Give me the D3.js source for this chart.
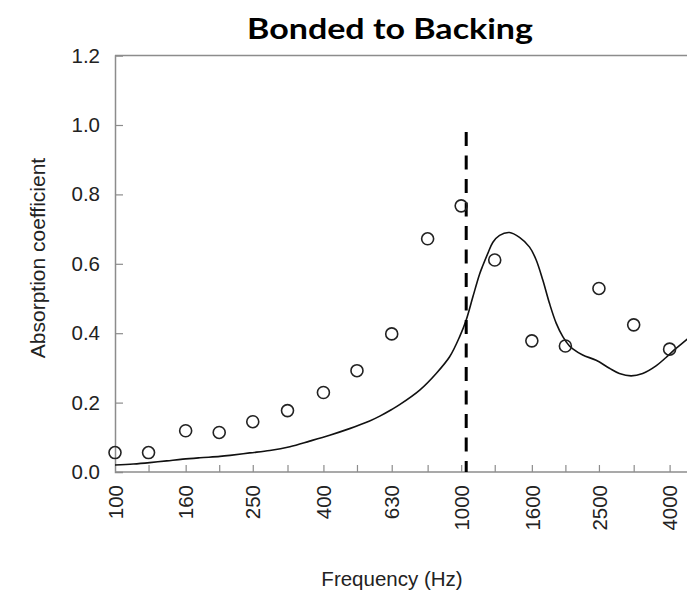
<!DOCTYPE html>
<html><head><meta charset="utf-8">
<script src="https://cdn.jsdelivr.net/npm/d3@7"></script>
<style>body{margin:0;background:#fff}svg{display:block}</style>
</head><body>
<script>
// Data
const bandFreqs = [100,125,160,200,250,315,400,500,630,800,1000,1250,1600,2000,2500,3150,4000,5000];
const tickLabels = ["100","160","250","400","630","1000","1600","2500","4000"];
const yTicks = [0,0.2,0.4,0.6,0.8,1.0,1.2];
const measuredFreqs = [100,125,160,200,250,315,400,500,630,800,1000,1250,1600,2000,2500,3150,4000];
const measuredAbs = [0.056,0.056,0.119,0.114,0.145,0.177,0.229,0.292,0.398,0.672,0.767,0.611,0.378,0.363,0.529,0.424,0.354];
const modelFreqs = [100,113,126,141,157,176,201,215,245,280,320,365,417,476,544,582,630,664,759,847,926,990,1034,1081,1130,1155,1194,1235,1291,1379,1474,1576,1647,1721,1799,1881,1966,2055,2101,2244,2454,2681,2864,3096,3344,3655,3907,4175,4462,4875];
const modelAbs = [0.020,0.023,0.027,0.032,0.037,0.041,0.045,0.048,0.055,0.062,0.073,0.089,0.106,0.125,0.147,0.161,0.180,0.194,0.236,0.284,0.332,0.390,0.438,0.505,0.570,0.595,0.630,0.662,0.682,0.690,0.676,0.648,0.611,0.553,0.486,0.429,0.390,0.363,0.355,0.337,0.322,0.299,0.284,0.277,0.284,0.306,0.330,0.356,0.380,0.412];
const markerFreq = 1034;
const markerTop = 0.98;

const W = 687, H = 593;
const svg = d3.select("body").append("svg").attr("width", W).attr("height", H);

const x = d3.scaleLog().domain([100, 4000]).range([115, 669.6]);
const y = d3.scaleLinear().domain([0, 1.2]).range([472, 55.6]);

const axisColor = "#8c8c8c";
const font = "Liberation Sans, Arial, sans-serif";

// top border
svg.append("line").attr("x1", x(100)).attr("x2", W).attr("y1", y(1.2)).attr("y2", y(1.2))
  .attr("stroke", axisColor).attr("stroke-width", 1.5);

// y axis
const yAxis = svg.append("g").attr("transform", `translate(${x(100)},0)`)
  .call(d3.axisLeft(y).tickValues(yTicks).tickFormat(d3.format(".1f")).tickSize(-8).tickPadding(15));
yAxis.select(".domain").attr("stroke", axisColor).attr("stroke-width", 1.5);
yAxis.selectAll(".tick line").attr("stroke", axisColor).attr("stroke-width", 1.2);
yAxis.selectAll(".tick text").attr("font-family", font).attr("font-size", 20.5).attr("fill", "#222");
yAxis.selectAll(".tick").filter(d => d === 0 || d === 1.2).select("line").remove();

// x axis
const xAxis = svg.append("g").attr("transform", `translate(0,${y(0)})`)
  .call(d3.axisBottom(x).tickValues(bandFreqs).tickFormat(d => tickLabels.includes(String(d)) ? String(d) : "").tickSize(-7).tickSizeOuter(0));
xAxis.select(".domain").attr("stroke", axisColor).attr("stroke-width", 1.5).attr("d", `M${x(100)},0H${W}`);
xAxis.selectAll(".tick line").attr("stroke", axisColor).attr("stroke-width", 1.2);
xAxis.selectAll(".tick").filter(d => d === 100).select("line").remove();
xAxis.selectAll(".tick text")
  .attr("font-family", font).attr("font-size", 20.5).attr("fill", "#222")
  .attr("transform", "rotate(-90)").attr("text-anchor", "end")
  .attr("x", -13).attr("y", 0).attr("dy", "0.35em");

// model curve
const line = d3.line().x((d, i) => x(modelFreqs[i])).y(d => y(d)).curve(d3.curveCatmullRom);
svg.append("path").datum(modelAbs).attr("d", line).attr("fill", "none")
  .attr("stroke", "#111").attr("stroke-width", 1.6);

// dashed marker line
svg.append("line").attr("x1", x(markerFreq)).attr("x2", x(markerFreq))
  .attr("y1", y(markerTop)).attr("y2", y(0))
  .attr("stroke", "#000").attr("stroke-width", 3).attr("stroke-dasharray", "14,9.5");

// measured points
svg.append("g").selectAll("circle").data(measuredAbs).join("circle")
  .attr("cx", (d, i) => x(measuredFreqs[i])).attr("cy", d => y(d)).attr("r", 6)
  .attr("fill", "none").attr("stroke", "#222").attr("stroke-width", 1.6);

// titles
svg.append("text").attr("x", 390).attr("y", 39).attr("text-anchor", "middle")
  .attr("font-family", "Lato, sans-serif").attr("font-weight", "bold").attr("font-size", 29)
  .attr("textLength", 286).attr("lengthAdjust", "spacingAndGlyphs").attr("fill", "#000")
  .text("Bonded to Backing");

svg.append("text").attr("transform", "translate(45,258) rotate(-90)").attr("text-anchor", "middle")
  .attr("font-family", font).attr("font-size", 21).attr("fill", "#222")
  .text("Absorption coefficient");

svg.append("text").attr("x", 392).attr("y", 586).attr("text-anchor", "middle")
  .attr("font-family", font).attr("font-size", 20.5).attr("fill", "#222")
  .text("Frequency (Hz)");
</script>
</body></html>
